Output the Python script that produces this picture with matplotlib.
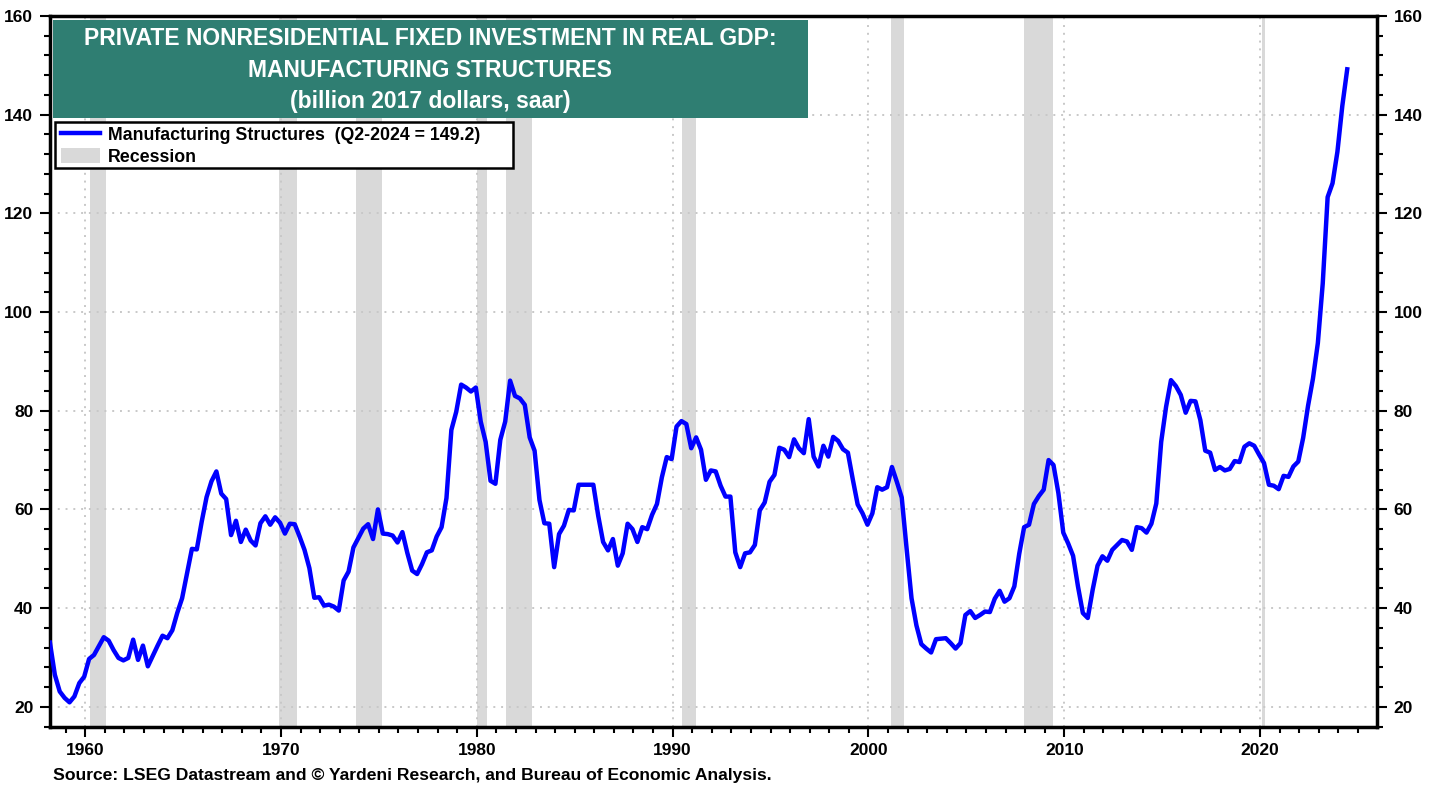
import numpy as np
import matplotlib
matplotlib.use("Agg")
import matplotlib.pyplot as plt
import matplotlib.patches as patches
from matplotlib.lines import Line2D
from matplotlib.ticker import MultipleLocator

plt.rcParams['font.family'] = ['Liberation Sans', 'DejaVu Sans']
plt.rcParams['font.weight'] = 'bold'

# 制造业建筑投资, 季度, 1958Q1 起 (billion 2017 dollars, saar)
first_year = 1958
values = [
    33.0, 26.5, 23.1, 21.8,   # 1958
    20.9, 22.1, 24.8, 26.1,   # 1959
    29.7, 30.5, 32.3, 34.1,   # 1960
    33.4, 31.5, 29.9, 29.4,   # 1961
    29.9, 33.6, 29.5, 32.4,   # 1962
    28.2, 30.3, 32.4, 34.4,   # 1963
    33.9, 35.5, 39.0, 42.0,   # 1964
    47.0, 52.0, 51.9, 57.5,   # 1965
    62.5, 65.7, 67.7, 63.2,   # 1966
    62.1, 54.8, 57.7, 53.4,   # 1967
    55.9, 53.7, 52.7, 57.2,   # 1968
    58.6, 56.9, 58.4, 57.3,   # 1969
    55.1, 57.1, 57.0, 54.5,   # 1970
    51.8, 48.1, 42.1, 42.2,   # 1971
    40.5, 40.7, 40.3, 39.5,   # 1972
    45.6, 47.4, 52.3, 54.2,   # 1973
    56.1, 57.0, 54.0, 60.0,   # 1974
    55.1, 55.0, 54.7, 53.3,   # 1975
    55.4, 51.2, 47.6, 46.9,   # 1976
    48.9, 51.3, 51.7, 54.5,   # 1977
    56.4, 62.3, 76.1, 79.8,   # 1978
    85.3, 84.7, 83.9, 84.7,   # 1979
    77.8, 73.7, 65.8, 65.2,   # 1980
    74.1, 77.8, 86.1, 83.0,   # 1981
    82.5, 81.2, 74.6, 71.9,   # 1982
    61.9, 57.2, 57.1, 48.3,   # 1983
    55.0, 56.7, 59.9, 59.8,   # 1984
    65.0, 65.0, 65.0, 65.0,   # 1985
    58.7, 53.4, 51.7, 54.0,   # 1986
    48.6, 51.1, 57.1, 56.0,   # 1987
    53.4, 56.4, 56.0, 58.9,   # 1988
    61.1, 66.5, 70.6, 70.2,   # 1989
    76.8, 77.9, 77.3, 72.4,   # 1990
    74.6, 72.1, 66.0, 67.9,   # 1991
    67.7, 64.8, 62.6, 62.6,   # 1992
    51.3, 48.3, 51.1, 51.3,   # 1993
    52.8, 59.8, 61.4, 65.6,   # 1994
    67.0, 72.5, 72.1, 70.6,   # 1995
    74.2, 72.4, 71.4, 78.3,   # 1996
    70.7, 68.7, 72.9, 70.7,   # 1997
    74.7, 73.9, 72.2, 71.5,   # 1998
    66.1, 61.0, 59.2, 56.9,   # 1999
    59.2, 64.5, 64.0, 64.5,   # 2000
    68.6, 65.6, 62.4, 52.0,   # 2001
    42.0, 36.5, 32.7, 31.8,   # 2002
    31.0, 33.7, 33.8, 33.9,   # 2003
    32.9, 31.8, 32.9, 38.6,   # 2004
    39.4, 38.0, 38.6, 39.3,   # 2005
    39.2, 41.9, 43.5, 41.3,   # 2006
    42.0, 44.4, 51.0, 56.4,   # 2007
    56.9, 61.1, 62.7, 64.0,   # 2008
    70.0, 69.0, 63.3, 55.3,   # 2009
    53.1, 50.6, 44.4, 39.0,   # 2010
    38.0, 43.7, 48.6, 50.5,   # 2011
    49.6, 51.8, 52.8, 53.8,   # 2012
    53.5, 51.8, 56.4, 56.2,   # 2013
    55.3, 57.1, 61.2, 73.7,   # 2014
    80.8, 86.2, 85.0, 83.2,   # 2015
    79.6, 82.0, 81.9, 78.1,   # 2016
    71.9, 71.5, 68.0, 68.6,   # 2017
    67.9, 68.2, 69.8, 69.6,   # 2018
    72.7, 73.4, 72.9, 71.1,   # 2019
    69.4, 65.0, 64.8, 64.1,   # 2020
    66.8, 66.6, 68.7, 69.7,   # 2021
    74.5, 81.0, 86.5, 93.7,   # 2022
    105.8, 123.3, 126.1, 132.5,  # 2023
    141.8, 149.2,             # 2024
]

# 经济衰退区间 (NBER, 年份小数)
rec_start = [1960.25, 1969.92, 1973.83, 1980.00, 1981.50, 1990.50, 2001.17, 2007.92, 2020.08]
rec_end = [1961.08, 1970.83, 1975.17, 1980.50, 1982.83, 1991.17, 2001.83, 2009.42, 2020.25]

title_lines = [
    "PRIVATE NONRESIDENTIAL FIXED INVESTMENT IN REAL GDP:",
    "MANUFACTURING STRUCTURES",
    "(billion 2017 dollars, saar)",
]
series_label = "Manufacturing Structures  (Q2-2024 = 149.2)"
source_text = "Source: LSEG Datastream and \u00a9 Yardeni Research, and Bureau of Economic Analysis."

# 季度位置 (季度末月)
t = first_year + np.arange(len(values)) / 4 + 0.2

fig = plt.figure(figsize=(14.39, 7.89), dpi=100)
ax = fig.add_axes([0.0347, 0.0792, 0.9222, 0.9005])

for s, e in zip(rec_start, rec_end):
    ax.axvspan(s, e, color='#d9d9d9', lw=0, zorder=0)

ax.plot(t, values, color='#0000ff', lw=3.2, zorder=3)

ax.set_xlim(1958.2, 2025.97)
ax.set_ylim(16, 160)
ax.xaxis.set_major_locator(MultipleLocator(10))
ax.xaxis.set_minor_locator(MultipleLocator(1))
ax.yaxis.set_minor_locator(MultipleLocator(4))
ax.set_yticks(np.arange(20, 161, 20))

ax.grid(True, which='major', color='#c8c8c8', linestyle=(0, (1, 3)), lw=1.4, zorder=1)

for sp in ax.spines.values():
    sp.set_linewidth(2.5)
ax.tick_params(which='both', direction='out', width=1.5, labelsize=12.5,
               left=True, right=True, labelleft=True, labelright=True, top=False)
ax.tick_params(which='major', length=7, pad=5)
ax.tick_params(which='minor', length=4)
for lab in ax.get_xticklabels() + ax.get_yticklabels():
    lab.set_fontweight('bold')

# 标题框
ax.add_patch(patches.Rectangle((0.0023, 0.8563), 0.5689, 0.138, transform=ax.transAxes,
                               facecolor='#2f7e72', edgecolor='none', zorder=5))
for txt, yy in zip(title_lines, [0.968, 0.924, 0.880]):
    ax.text(0.2864, yy, txt, transform=ax.transAxes, ha='center', va='center',
            color='white', fontsize=16.5, fontweight='bold', zorder=6)

# 图例框
ax.add_patch(patches.Rectangle((0.0038, 0.7859), 0.3451, 0.0648, transform=ax.transAxes,
                               facecolor='white', edgecolor='black', lw=1.8, zorder=6))
handles = [
    Line2D([], [], color='#0000ff', lw=3.2),
    patches.Patch(facecolor='#d9d9d9', edgecolor='none'),
]
leg = ax.legend(handles, [series_label, "Recession"], loc='upper left',
                bbox_to_anchor=(0.0065, 0.8485), frameon=False,
                handlelength=2.2, handleheight=0.9, handletextpad=0.45,
                borderpad=0.15, labelspacing=0.25, borderaxespad=0,
                prop={'weight': 'bold', 'size': 12.8})
leg.set_zorder(7)

fig.text(0.0368, 0.0177, source_text, ha='left', va='center', fontsize=12.6, fontweight='bold')

fig.savefig("out.png", dpi=100)
